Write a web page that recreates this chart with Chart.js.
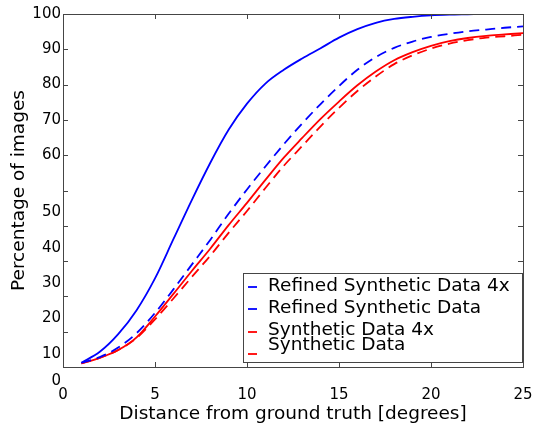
<!DOCTYPE html>
<html>
<head>
<meta charset="utf-8">
<script src="https://cdn.jsdelivr.net/npm/chart.js@4.4.1/dist/chart.umd.min.js"></script>
<style>
  html, body { margin: 0; padding: 0; background: #fff; }
  canvas { display: block; }
</style>
</head>
<body>
<canvas id="chart" width="536" height="429"></canvas>
<script>
// distance from ground truth (degrees)
const distances = [1, 2, 3, 4, 5, 6, 7, 8, 9, 10, 11, 12, 13, 14, 15, 16, 17, 18, 19, 20, 21, 22, 23, 24, 25];

// percentage of images within that distance
const refinedSynthetic4x = [1.2, 4.3, 9.3, 16.1, 25.1, 36.2, 47.3, 57.8, 67.2, 74.6, 80.3, 84.2, 87.4, 90.3, 93.3, 95.7, 97.5, 98.6, 99.2, 99.6, 99.8, 99.9, 100, 100, 100];
const refinedSynthetic = [1.2, 2.8, 5.5, 9.6, 15.3, 22, 29, 36, 43.4, 50.3, 56.8, 63.1, 69, 74.5, 79.6, 84.2, 87.8, 90.4, 92.2, 93.5, 94.4, 95.1, 95.6, 96.1, 96.5];
const synthetic4x = [1, 2.6, 4.8, 8.4, 14.3, 20.7, 27.2, 33.5, 40.2, 46.5, 53, 59.3, 64.9, 70.3, 75.2, 79.8, 83.7, 86.9, 89.2, 91, 92.3, 93.2, 93.8, 94.2, 94.6];
const synthetic = [1, 2.6, 4.8, 8.2, 13.5, 19.4, 25.5, 31.5, 38, 44.2, 50.7, 57, 62.6, 68.2, 73.4, 78.2, 82.3, 85.8, 88.3, 90.2, 91.6, 92.6, 93.3, 93.7, 94.1];

const seriesLabels = ["Refined Synthetic Data 4x", "Refined Synthetic Data", "Synthetic Data 4x", "Synthetic Data"];
const xTicks = [0, 5, 10, 15, 20, 25];
const yTicks = [0, 10, 20, 30, 40, 50, 60, 70, 80, 90, 100];

const FONT = "'DejaVu Sans', sans-serif";
const AXIS_COLOR = "#454545";

function toPoints(values) {
    return distances.map((d, i) => ({ x: d, y: values[i] }));
}

function series(label, values, color, dashed) {
    return {
        label,
        data: toPoints(values),
        borderColor: color,
        backgroundColor: color,
        borderWidth: 1.8,
        borderDash: dashed ? [10, 6] : [],
        pointRadius: 0,
        cubicInterpolationMode: "monotone",
        fill: false,
    };
}

// MATLAB-style box, inward ticks, y labels and the legend
const matlabFrame = {
    id: "matlabFrame",
    afterDraw(chart) {
        const { ctx, chartArea: a, scales } = chart;
        const xs = scales.x, ys = scales.y;
        ctx.save();

        // box
        ctx.strokeStyle = AXIS_COLOR;
        ctx.lineWidth = 1;
        ctx.setLineDash([]);
        ctx.strokeRect(a.left + 0.5, a.top + 0.5, a.right - a.left, a.bottom - a.top);

        // inward ticks
        const tl = 5;
        ctx.beginPath();
        xTicks.forEach((v) => {
            const px = Math.round(xs.getPixelForValue(v)) + 0.5;
            ctx.moveTo(px, a.bottom); ctx.lineTo(px, a.bottom - tl);
            ctx.moveTo(px, a.top); ctx.lineTo(px, a.top + tl);
        });
        yTicks.forEach((v) => {
            const py = Math.round(ys.getPixelForValue(v)) + 0.5;
            ctx.moveTo(a.left, py); ctx.lineTo(a.left + tl, py);
            ctx.moveTo(a.right, py); ctx.lineTo(a.right - tl, py);
        });
        ctx.stroke();

        // y tick labels (lower half sits lower than its tick, as in the original)
        ctx.fillStyle = "#000";
        ctx.font = "15px " + FONT;
        ctx.textAlign = "right";
        ctx.textBaseline = "middle";
        yTicks.forEach((v) => {
            let off = 0;
            if (v === 0) off = 14;
            else if (v <= 50) off = 22;
            ctx.fillText(String(v), a.left - 2, ys.getPixelForValue(v) + off);
        });

        // legend
        const lx = 243, ly = 273, lw = 279, lh = 89;
        ctx.fillStyle = "#fff";
        ctx.fillRect(lx, ly, lw, lh);
        ctx.strokeStyle = AXIS_COLOR;
        ctx.strokeRect(lx + 0.5, ly + 0.5, lw, lh);
        const rows = [
            { text: 286, mark: 287 },
            { text: 308, mark: 309 },
            { text: 330, mark: 332 },
            { text: 345, mark: 354 },
        ];
        ctx.font = "18.5px " + FONT;
        ctx.textAlign = "left";
        chart.data.datasets.forEach((ds, i) => {
            ctx.strokeStyle = ds.borderColor;
            ctx.lineWidth = 1.8;
            ctx.beginPath();
            ctx.moveTo(248, rows[i].mark);
            ctx.lineTo(257, rows[i].mark);
            ctx.stroke();
            ctx.fillStyle = "#000";
            ctx.fillText(ds.label, 268, rows[i].text);
        });
        ctx.restore();
    },
};

new Chart(document.getElementById("chart"), {
    type: "line",
    data: {
        datasets: [
            series(seriesLabels[0], refinedSynthetic4x, "#0000ff", false),
            series(seriesLabels[1], refinedSynthetic, "#0000ff", true),
            series(seriesLabels[2], synthetic4x, "#ff0000", false),
            series(seriesLabels[3], synthetic, "#ff0000", true),
        ],
    },
    options: {
        responsive: false,
        animation: false,
        devicePixelRatio: 1,
        layout: { padding: { top: 14, right: 13, left: 0, bottom: 0 } },
        plugins: {
            legend: { display: false },
            tooltip: { enabled: false },
        },
        scales: {
            x: {
                type: "linear",
                min: 0,
                max: 25,
                afterBuildTicks: (s) => { s.ticks = xTicks.map((v) => ({ value: v })); },
                afterFit: (s) => {
                    s.height = 62;
                    s.paddingLeft = 0;
                    s.paddingRight = 0;
                },
                grid: { display: false, drawTicks: false },
                border: { display: false },
                ticks: {
                    color: "#000",
                    padding: 19,
                    maxRotation: 0,
                    font: { family: FONT, size: 15 },
                },
                title: {
                    display: true,
                    text: "Distance from ground truth [degrees]",
                    color: "#000",
                    font: { family: FONT, size: 18.5 },
                    padding: { top: 0, bottom: 4 },
                },
            },
            y: {
                type: "linear",
                min: 0,
                max: 100,
                afterFit: (s) => { s.width = 63; },
                grid: { display: false, drawTicks: false },
                border: { display: false },
                ticks: { display: false },
                title: {
                    display: true,
                    text: "Percentage of images",
                    color: "#000",
                    font: { family: FONT, size: 18.5 },
                    padding: { top: 8, bottom: 0 },
                },
            },
        },
    },
    plugins: [matlabFrame],
});
</script>
</body>
</html>
